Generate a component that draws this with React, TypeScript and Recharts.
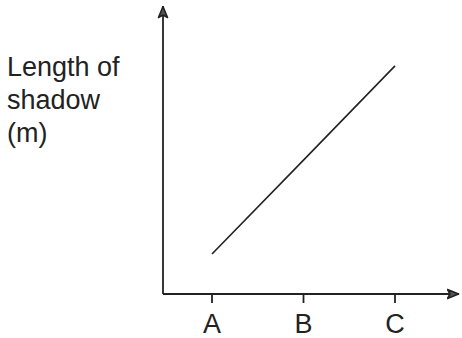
import { LineChart, Line, XAxis, YAxis } from 'recharts';

const positions = ['A', 'B', 'C'];
const shadowLength = [1.39, 4.65, 7.92];

const data = positions.map((name, i) => ({ name, length: shadowLength[i] }));

const ink = '#222';
const font = '"Liberation Sans", Arial, sans-serif';

export default function App() {
  return (
    <div style={{ position: 'absolute', left: 0, top: 0, width: 462, height: 338, background: '#fff' }}>
      <div
        style={{
          position: 'absolute',
          left: 7,
          top: 51,
          fontFamily: font,
          fontSize: 27,
          lineHeight: '33px',
          color: ink,
        }}
      >
        Length of
        <br />
        shadow
        <br />
        (m)
      </div>
      <LineChart width={462} height={338} data={data} margin={{ top: 6, right: 3, bottom: 4, left: 153 }}>
        <defs>
          <marker
            id="arrow"
            viewBox="0 0 13 12"
            refX="12.5"
            refY="6"
            markerWidth="13"
            markerHeight="12"
            markerUnits="userSpaceOnUse"
            orient="auto-start-reverse"
          >
            <path d="M1,1.5 L12,6 L1,10.5 L3.5,6 Z" fill="#555" stroke={ink} strokeWidth={1.6} strokeLinejoin="round" />
          </marker>
        </defs>
        <XAxis
          dataKey="name"
          height={40}
          padding={{ left: 49, right: 64 }}
          axisLine={{ stroke: ink, strokeWidth: 1.8, markerEnd: 'url(#arrow)' }}
          tickLine={{ stroke: ink, strokeWidth: 1.8 }}
          tickSize={9}
          tickMargin={11}
          tick={{ fill: ink, fontSize: 27, fontFamily: font }}
        />
        <YAxis
          width={10}
          domain={[0, 10]}
          tick={false}
          tickLine={false}
          axisLine={{ stroke: ink, strokeWidth: 1.8, markerStart: 'url(#arrow)' }}
        />
        <Line
          dataKey="length"
          stroke={ink}
          strokeWidth={1.6}
          dot={false}
          activeDot={false}
          isAnimationActive={false}
        />
      </LineChart>
    </div>
  );
}
